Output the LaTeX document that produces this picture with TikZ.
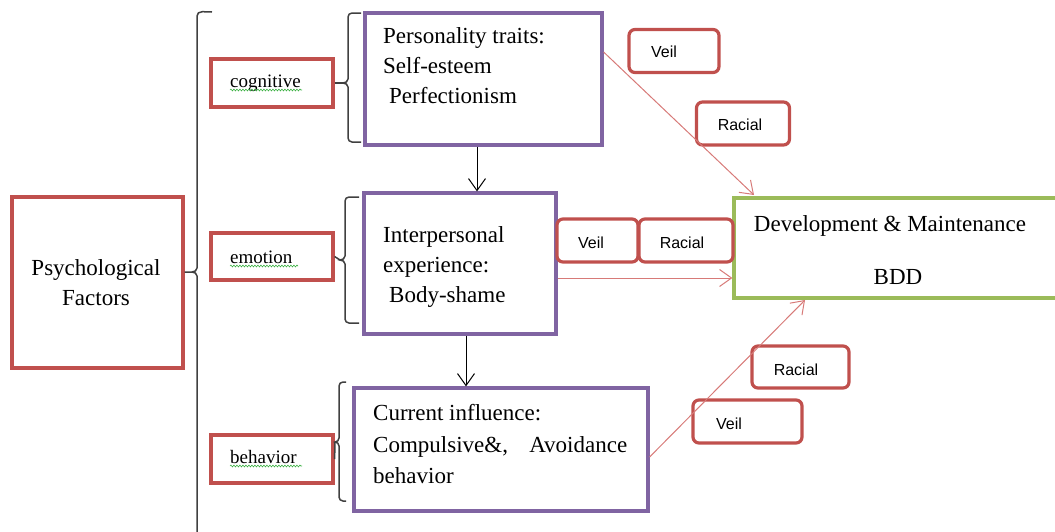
\documentclass[tikz,border=0pt]{standalone}
\usepackage{fontspec}
\setmainfont{Liberation Serif}
\newfontfamily\labelsans{Liberation Sans}
\usetikzlibrary{arrows.meta,decorations.pathmorphing}
\definecolor{boxred}{HTML}{C0504D}
\definecolor{boxpurple}{HTML}{8064A2}
\definecolor{boxgreen}{HTML}{9BBB59}
\definecolor{linkred}{HTML}{D77A78}
\definecolor{bracegray}{HTML}{404040}
\definecolor{spellgreen}{HTML}{3CB043}
\begin{document}
\begin{tikzpicture}[x=1pt,y=-1pt,
  redbox/.style={draw=boxred, line width=3.2pt, inner sep=0pt},
  tagbox/.style={draw=boxred, line width=3.2pt, rounded corners=6pt, inner sep=0pt},
  purplebox/.style={draw=boxpurple, line width=3.2pt, inner sep=0pt},
  greenbox/.style={draw=boxgreen, line width=3.2pt, inner sep=0pt},
  maintext/.style={font=\fontsize{23}{30}\selectfont, inner sep=0pt},
  smalltext/.style={font=\fontsize{19}{24}\selectfont, inner sep=0pt},
  tagtext/.style={font=\labelsans\fontsize{16}{20}\selectfont, inner sep=0pt},
  bracket/.style={draw=bracegray, line width=1.5pt},
  blackarrow/.style={draw=black, line width=1pt, -{Straight Barb[length=12pt,width=17pt]}},
  redarrow/.style={draw=linkred, line width=1pt, -{Straight Barb[length=12pt,width=17pt]}},
  spell/.style={draw=spellgreen, line width=0.6pt, decorate, decoration={snake, amplitude=0.9pt, segment length=3pt}}
]
\useasboundingbox (0,0) rectangle (1055,531);
\clip (0,0) rectangle (1055,531);

% main boxes
\node[redbox, minimum width=171pt, minimum height=171pt] (psy) at (97.5,282.5) {};
\node[maintext, align=center] (psytext) at (96,283) {Psychological\\Factors};

\node[redbox, minimum width=122pt, minimum height=48pt] (cog) at (272,83) {};
\node[redbox, minimum width=122pt, minimum height=47pt] (emo) at (272,256.5) {};
\node[redbox, minimum width=122pt, minimum height=48pt] (beh) at (272,459) {};
\node[smalltext, anchor=base west] (cogtext) at (230,87) {cognitive};
\node[smalltext, anchor=base west] (emotext) at (230,263) {emotion};
\node[smalltext, anchor=base west] (behtext) at (230,463) {behavior};
\draw[spell] (230,90) -- (302,90);
\draw[spell] (230,266) -- (298,266);
\draw[spell] (230,466) -- (302,466);

\node[purplebox, minimum width=237pt, minimum height=132pt] (pers) at (483.5,79) {};
\node[maintext, anchor=base west] (pers1) at (383,43) {Personality traits:};
\node[maintext, anchor=base west] (pers2) at (383,73) {Self-esteem};
\node[maintext, anchor=base west] (pers3) at (389,103) {Perfectionism};

\node[purplebox, minimum width=192pt, minimum height=141pt] (inter) at (460,263.5) {};
\node[maintext, anchor=base west] (inter1) at (383,242) {Interpersonal};
\node[maintext, anchor=base west] (inter2) at (383,272) {experience:};
\node[maintext, anchor=base west] (inter3) at (389,302) {Body-shame};

\node[purplebox, minimum width=294pt, minimum height=123pt] (curr) at (501,449.5) {};
\node[maintext, anchor=base west] (curr1) at (373,420) {Current influence:};
\node[maintext, anchor=base west, text width=254pt, align=left] (curr2) at (373,452) {Compulsive\&,\hfill Avoidance};
\node[maintext, anchor=base west] (curr3) at (373,483) {behavior};

\node[greenbox, minimum width=340pt, minimum height=100pt] (bdd) at (904,248) {};
\node[maintext, anchor=base] (bdd1) at (890,231) {Development \& Maintenance};
\node[maintext, anchor=base] (bdd2) at (898,284) {BDD};

% tag boxes
\node[tagbox, minimum width=90pt, minimum height=43pt] (veilA) at (674,51) {};
\node[tagtext] (veilAt) at (664,52) {Veil};
\node[tagbox, minimum width=93pt, minimum height=43pt] (racA) at (743,123.5) {};
\node[tagtext] (racAt) at (740,125) {Racial};
\node[tagbox, minimum width=81pt, minimum height=43pt] (veilB) at (597.5,240.5) {};
\node[tagtext] (veilBt) at (591,243) {Veil};
\node[tagbox, minimum width=94pt, minimum height=43pt] (racB) at (686,240.5) {};
\node[tagtext] (racBt) at (682,243) {Racial};
\node[tagbox, minimum width=97pt, minimum height=42pt] (racC) at (800.5,367) {};
\node[tagtext] (racCt) at (796,370) {Racial};
\node[tagbox, minimum width=109pt, minimum height=43pt] (veilC) at (747.5,421.5) {};
\node[tagtext] (veilCt) at (729,424) {Veil};

% anchor coordinates for connectors
\coordinate (persout) at (pers.east |- 0,52);
\coordinate (bddtop) at (754,195);
\coordinate (interout) at (inter.east |- 0,278);
\coordinate (bddleft) at (bdd.west |- 0,278);
\coordinate (currout) at (curr.east |- 0,457);
\coordinate (bddbot) at (805,300);

% black arrows
\draw[blackarrow] (pers.south -| 477,0) -- (inter.north -| 477,0);
\draw[blackarrow] (inter.south -| 466,0) -- (curr.north -| 466,0);

% red arrows
\draw[redarrow] (persout) -- (bddtop);
\draw[redarrow] (interout) -- (bddleft);
\draw[redarrow] (currout) -- (bddbot);

% big bracket
\draw[bracket] (212,12) to[out=180,in=90] (197,16) -- (197,268) to[out=-90,in=0] (192,272) -- (psy.east |- 0,272);
\draw[bracket] (192,272) to[out=0,in=90] (197,276) -- (197,540);

% cognitive bracket
\draw[bracket] (cog.east) -- (343,83);
\draw[bracket] (361,13) -- (352,13) to[out=180,in=90] (348,17) -- (348,79) to[out=-90,in=0] (343,83) to[out=0,in=90] (348,87) -- (348,138) to[out=-90,in=180] (352,142) -- (361,142);
% emotion bracket
\draw[bracket] (emo.east) -- (340,260);
\draw[bracket] (359,197) -- (349,197) to[out=180,in=90] (345,201) -- (345,256) to[out=-90,in=0] (340,260) to[out=0,in=90] (345,264) -- (345,319) to[out=-90,in=180] (349,323) -- (359,323);
% behavior bracket
\draw[bracket] (beh.east) -- (335,442);
\draw[bracket] (346,382) -- (343,382) to[out=180,in=90] (339,386) -- (339,438) to[out=-90,in=0] (335,442) to[out=0,in=90] (339,446) -- (339,497) to[out=-90,in=180] (343,501) -- (346,501);
\end{tikzpicture}
\end{document}
